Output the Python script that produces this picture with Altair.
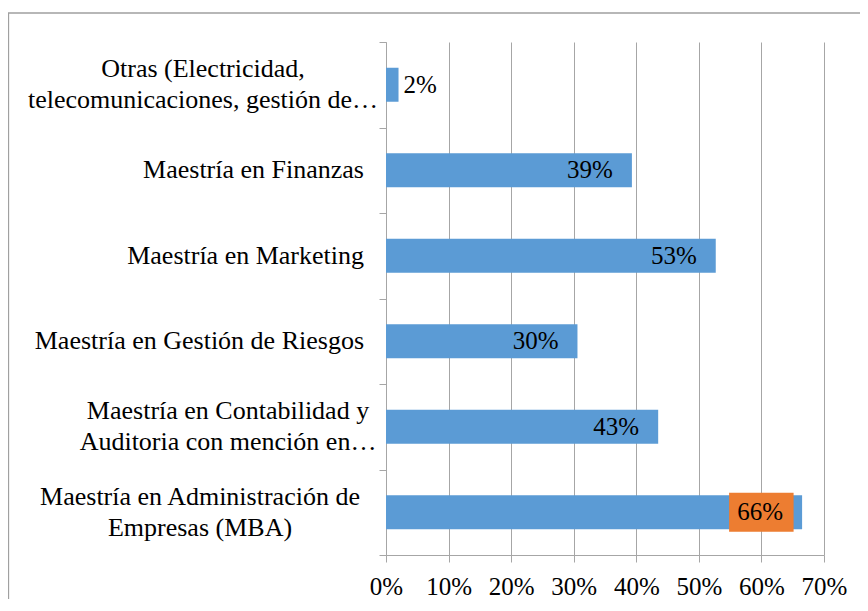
import altair as alt
import pandas as pd

# ---- data (top-to-bottom order as shown) ----
categories = [
    "Otras (Electricidad, telecomunicaciones, gestión de…",
    "Maestría en Finanzas",
    "Maestría en Marketing",
    "Maestría en Gestión de Riesgos",
    "Maestría en Contabilidad y Auditoria con mención en…",
    "Maestría en Administración de Empresas (MBA)",
]
label_lines = [
    ["Otras (Electricidad,", "telecomunicaciones, gestión de…"],
    ["Maestría en Finanzas"],
    ["Maestría en Marketing"],
    ["Maestría en Gestión de Riesgos"],
    ["Maestría en Contabilidad y", "Auditoria con mención en…"],
    ["Maestría en Administración de", "Empresas (MBA)"],
]
values = [0.020, 0.393, 0.527, 0.306, 0.435, 0.665]
value_labels = ["2%", "39%", "53%", "30%", "43%", "66%"]
highlighted = ["Maestría en Administración de Empresas (MBA)"]
tick_values = [0, 0.1, 0.2, 0.3, 0.4, 0.5, 0.6, 0.7]

# ---- style ----
FONT = "Times New Roman, Liberation Serif, DejaVu Serif, serif"
BLUE = "#5B9BD5"
ORANGE = "#ED7D31"
GRID = "#A6A6A6"
W, H = 438, 513
LINE_H = 31

# label placement (layout only): (align, x pixel offset from plot left)
label_layout = {
    categories[0]: ("center", -183),
    categories[1]: ("right", -22),
    categories[2]: ("right", -22),
    categories[3]: ("right", -22),
    categories[4]: ("center", -158),
    categories[5]: ("center", -186),
}

df = pd.DataFrame({
    "categoria": categories,
    "valor": values,
    "etiqueta": value_labels,
    "lineas": label_lines,
    "destacado": [c in highlighted for c in categories],
})

base = alt.Chart(df)

y = alt.Y(
    "categoria:N",
    sort=categories,
    scale=alt.Scale(paddingInner=0, paddingOuter=0),
    axis=alt.Axis(
        labels=False, title=None, grid=False, tickBand="extent",
        tickSize=7, tickColor=GRID, domainColor=GRID, tickWidth=1, domainWidth=1,
    ),
)
x = alt.X(
    "valor:Q",
    scale=alt.Scale(domain=[0, 0.7], nice=False, zero=True),
    axis=alt.Axis(
        values=tick_values, format=".0%", title=None,
        grid=True, gridColor=GRID, gridWidth=1,
        domainColor=GRID, tickColor=GRID, tickSize=7, labelPadding=12,
        labelFont=FONT, labelFontSize=25, labelColor="black",
        labelOverlap=False, labelFlush=False,
    ),
)

bars = base.mark_bar(size=34, color=BLUE).encode(x=x, y=y)

box = base.transform_filter("datum.destacado").mark_bar(
    size=39, color=ORANGE, xOffset=-73, x2Offset=-8.5
).encode(x=x, x2="valor:Q", y=y)

inside = base.transform_filter("datum.valor >= 0.05").mark_text(
    align="right", baseline="middle", dx=-19, font=FONT, fontSize=25, color="black"
).encode(x=x, y=y, text="etiqueta:N")

outside = base.transform_filter("datum.valor < 0.05").mark_text(
    align="left", baseline="middle", dx=5, font=FONT, fontSize=25, color="black"
).encode(x=x, y=y, text="etiqueta:N")

label_layers = []
for cat, lines in zip(categories, label_lines):
    a, px = label_layout[cat]
    shift = -(len(lines) - 1) * LINE_H / 2
    label_layers.append(
        base.transform_filter(alt.datum.categoria == cat).mark_text(
            align=a, baseline="middle", lineHeight=LINE_H, dy=shift,
            font=FONT, fontSize=26, color="black"
        ).encode(x=alt.value(px), y=y, text="lineas:N")
    )

border = alt.Chart(pd.DataFrame({"k": [0]})).mark_rect(
    filled=False, stroke="#A0A0A0", strokeWidth=1.3
).encode(
    x=alt.value(-377.5), x2=alt.value(W + 200),
    y=alt.value(-29), y2=alt.value(H + 200),
)

chart = alt.layer(border, bars, box, inside, outside, *label_layers).properties(
    width=W, height=H,
    autosize=alt.AutoSizeParams(type="none"),
    padding={"left": 378, "top": 34, "right": 36, "bottom": 44},
).configure_view(strokeWidth=0)

chart.save("out.html", embed_options={"renderer": "svg", "actions": False})
